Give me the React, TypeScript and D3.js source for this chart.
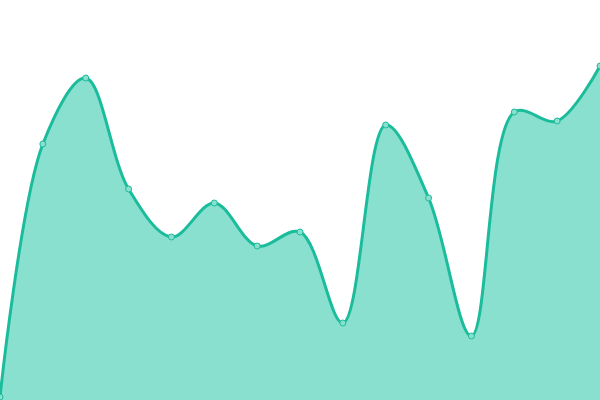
import React from "react";
import * as d3 from "d3";

const values = [3, 256, 322, 211, 163, 197, 154, 168, 77, 275, 202, 64, 288, 279, 334];

const WIDTH = 600;
const HEIGHT = 400;

export default function App() {
  const x = d3.scaleLinear().domain([0, values.length - 1]).range([0, WIDTH]);
  const y = d3.scaleLinear().domain([0, 400]).range([HEIGHT, 0]);

  const area = d3
    .area<number>()
    .x((_, i) => x(i))
    .y0(HEIGHT)
    .y1((d) => y(d))
    .curve(d3.curveCatmullRom.alpha(0.5));

  const line = d3
    .line<number>()
    .x((_, i) => x(i))
    .y((d) => y(d))
    .curve(d3.curveCatmullRom.alpha(0.5));

  return (
    <svg
      width={WIDTH}
      height={HEIGHT}
      style={{ position: "absolute", left: 0, top: 0, background: "#fff" }}
    >
      <path d={area(values) || ""} fill="#8ae0ce" />
      <path d={line(values) || ""} fill="none" stroke="#1abc9c" strokeWidth={3} />
      {values.map((d, i) => (
        <circle
          key={i}
          cx={x(i)}
          cy={y(d)}
          r={3}
          fill="#8ae0ce"
          stroke="#1abc9c"
          strokeWidth={1}
        />
      ))}
    </svg>
  );
}
